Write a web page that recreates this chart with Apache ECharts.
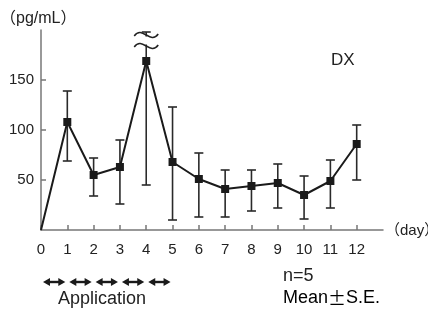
<!DOCTYPE html>
<html>
<head>
<meta charset="utf-8">
<script src="https://cdn.jsdelivr.net/npm/echarts@6/dist/echarts.min.js"></script>
<style>
  html, body { margin: 0; padding: 0; background: #fff; }
  #chart { width: 428px; height: 312px; }
</style>
</head>
<body>
<div id="chart"></div>
<script>
// 数据
const days = [0, 1, 2, 3, 4, 5, 6, 7, 8, 9, 10, 11, 12]
const means = [0, 108, 55, 63, 169, 68, 51, 41, 44, 47, 35, 49, 86]
const upper = [null, 139, 72, 90, 198, 123, 77, 60, 60, 66, 54, 70, 105]
const lower = [null, 69, 34, 26, 45, 10, 13, 13, 19, 22, 11, 22, 50]
const yTicks = [50, 100, 150]
const xTicks = days
const breakAt = [[4, 189.5]]
const applicationDays = [[0, 1], [1, 2], [2, 3], [3, 4], [4, 5]]

const FONT = '"Liberation Sans", Arial, "Noto Sans CJK JP", sans-serif'
const INK = '#1a1a1a'
const AXIS = '#777'

const chart = echarts.init(document.getElementById('chart'), null, { renderer: 'canvas' })

const lineData = days.map((d, i) => ({
  value: [d, means[i]],
  symbol: i === 0 ? 'none' : 'rect'
}))

const errData = days
  .map((d, i) => [d, lower[i], upper[i]])
  .filter(r => r[1] != null)

chart.setOption({
  animation: false,
  grid: { left: 41, right: 45, top: 30, bottom: 82 },
  xAxis: {
    type: 'value',
    min: 0,
    max: 13,
    splitLine: { show: false },
    axisLine: { show: true, lineStyle: { color: AXIS, width: 1.5 } },
    axisTick: { show: true, inside: true, length: 5, lineStyle: { color: AXIS, width: 1.5 }, customValues: xTicks },
    axisLabel: { customValues: xTicks, color: '#222', fontSize: 15, fontFamily: FONT, margin: 12 }
  },
  yAxis: {
    type: 'value',
    min: 0,
    max: 200,
    splitLine: { show: false },
    axisLine: { show: true, lineStyle: { color: AXIS, width: 1.5 } },
    axisTick: { show: true, inside: true, length: 5, lineStyle: { color: AXIS, width: 1.5 }, customValues: yTicks },
    axisLabel: { customValues: yTicks, color: '#222', fontSize: 15, fontFamily: FONT, margin: 7 }
  },
  series: [
    {
      // 误差线
      type: 'custom',
      z: 1,
      data: errData,
      renderItem: (params, api) => {
        const x = api.value(0)
        const lo = api.coord([x, api.value(1)])
        const hi = api.coord([x, api.value(2)])
        const w = 4.5
        const style = { stroke: '#2a2a2a', lineWidth: 1.6 }
        return {
          type: 'group',
          children: [
            { type: 'line', shape: { x1: lo[0], y1: lo[1], x2: hi[0], y2: hi[1] }, style },
            { type: 'line', shape: { x1: hi[0] - w, y1: hi[1], x2: hi[0] + w, y2: hi[1] }, style },
            { type: 'line', shape: { x1: lo[0] - w, y1: lo[1], x2: lo[0] + w, y2: lo[1] }, style }
          ]
        }
      }
    },
    {
      type: 'line',
      z: 2,
      data: lineData,
      symbolSize: 8,
      lineStyle: { color: INK, width: 2 },
      itemStyle: { color: INK }
    },
    {
      // 断轴符号
      type: 'custom',
      z: 3,
      data: breakAt,
      renderItem: (params, api) => {
        const p = api.coord([api.value(0), api.value(1)])
        const wave = dy => ({
          type: 'bezierCurve',
          shape: {
            x1: p[0] - 12, y1: p[1] + dy + 1,
            cpx1: p[0] - 4, cpy1: p[1] + dy - 10,
            cpx2: p[0] + 4, cpy2: p[1] + dy + 10,
            x2: p[0] + 12, y2: p[1] + dy - 1
          },
          style: { stroke: '#222', lineWidth: 1.5, fill: null }
        })
        return {
          type: 'group',
          children: [
            { type: 'rect', shape: { x: p[0] - 12, y: p[1] - 4, width: 24, height: 8 }, style: { fill: '#fff' } },
            wave(-5.5),
            wave(5.5)
          ]
        }
      }
    },
    {
      // 给药期间箭头
      type: 'custom',
      z: 3,
      clip: false,
      data: applicationDays,
      renderItem: (params, api) => {
        const a = api.coord([api.value(0), 0])
        const b = api.coord([api.value(1), 0])
        const y = a[1] + 52
        const x1 = a[0] + 2
        const x2 = b[0] - 2
        const h = 7
        const style = { fill: INK }
        return {
          type: 'group',
          children: [
            { type: 'line', shape: { x1: x1 + 3, y1: y, x2: x2 - 3, y2: y }, style: { stroke: INK, lineWidth: 2.4 } },
            { type: 'polygon', shape: { points: [[x1, y], [x1 + h, y - 4], [x1 + h, y + 4]] }, style },
            { type: 'polygon', shape: { points: [[x2, y], [x2 - h, y - 4], [x2 - h, y + 4]] }, style }
          ]
        }
      }
    }
  ],
  graphic: [
    { type: 'text', left: 0, top: 11, style: { text: '（pg/mL）', font: '16px ' + FONT, fill: '#222' } },
    { type: 'text', left: 331, top: 52, style: { text: 'DX', font: '17px ' + FONT, fill: '#222' } },
    { type: 'text', left: 385, top: 223, style: { text: '（day）', font: '15px ' + FONT, fill: '#222' } },
    { type: 'text', left: 283, top: 267, style: { text: 'n=5', font: '18px ' + FONT, fill: '#222' } },
    {
      type: 'text', left: 283, top: 289,
      style: {
        text: '{a|Mean}{b|±}{a|S.E.}',
        rich: {
          a: { fontSize: 18, fontFamily: FONT, color: '#222' },
          b: { fontSize: 18, fontFamily: '"Noto Sans CJK JP", sans-serif', color: '#222' }
        }
      }
    },
    { type: 'text', left: 58, top: 290, style: { text: 'Application', font: '18px ' + FONT, fill: '#222' } }
  ]
})
</script>
</body>
</html>
